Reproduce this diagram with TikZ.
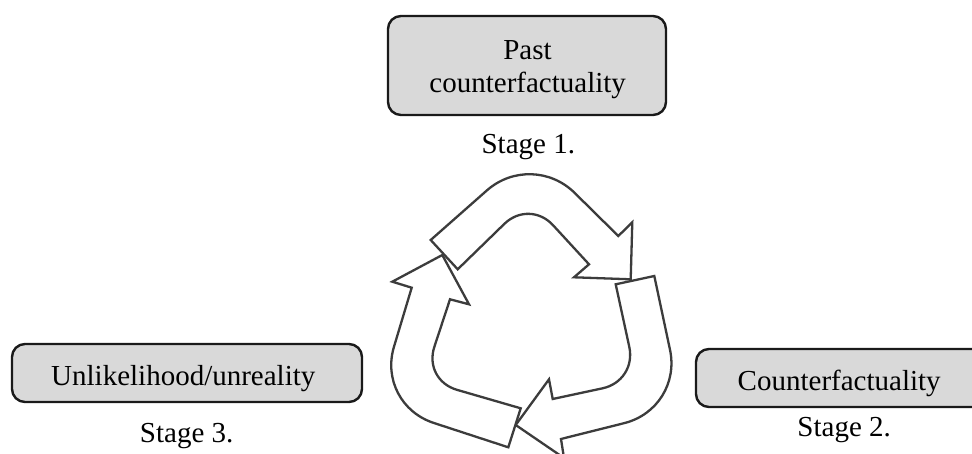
\documentclass[tikz,border=0pt]{standalone}
\usepackage{fontspec}
\setmainfont{Liberation Serif}
\usetikzlibrary{calc}
\definecolor{boxfill}{HTML}{D9D9D9}
\definecolor{boxline}{HTML}{1A1A1A}
\definecolor{arrline}{HTML}{3C3C3C}
\tikzset{
  stagebox/.style={draw=boxline, fill=boxfill, line width=2.4pt, rounded corners=13pt, inner sep=0pt},
  lbl/.style={inner sep=0pt, anchor=base, font=\fontsize{29}{33}\selectfont},
  cyclearrow/.style={draw=arrline, line width=2.3pt, fill=white, line join=miter},
}
\begin{document}
\begin{tikzpicture}[x=1pt,y=-1pt]
\clip (0,0) rectangle (972,454);
\fill[white] (0,0) rectangle (972,454);

% boxes
\node[stagebox, minimum width=278pt, minimum height=99pt] (box1) at (527,65.5) {};
\node[lbl] (past) at (527.5,59.3) {Past};
\node[lbl] (cf1) at (527.7,92.3) {counterfactuality};
\node[lbl] (st1) at (528.3,153.3) {Stage 1.};

\node[stagebox, minimum width=350pt, minimum height=58pt] (box3) at (187,373) {};
\node[lbl] (unl) at (183.3,385) {Unlikelihood/unreality};
\node[lbl] (st3) at (186.7,442.3) {Stage 3.};

\node[stagebox, minimum width=300pt, minimum height=58pt] (box2) at (846,378) {};
\node[lbl] (cf2) at (839.2,390.7) {Counterfactuality};
\node[lbl] (st2) at (844.2,436) {Stage 2.};

% top arrow
\coordinate (t-to) at (430.7,240);
\coordinate (t-ov) at (531.9,150.7);
\coordinate (t-on) at (618.3,236);
\coordinate (t-ob) at (632.3,222.3);
\coordinate (t-tip) at (630.7,279.3);
\coordinate (t-ib) at (574,277.3);
\coordinate (t-in) at (589,264.3);
\coordinate (t-iv) at (529.4,199.5);
\coordinate (t-ti) at (457.7,269.3);
\draw[cyclearrow] (t-to) -- ($(t-ov)!60pt!(t-to)$)
  .. controls ($(t-ov)!26pt!(t-to)$) and ($(t-ov)!26pt!(t-on)$) .. ($(t-ov)!60pt!(t-on)$)
  -- (t-on) -- (t-ob) -- (t-tip) -- (t-ib) -- (t-in) -- ($(t-iv)!35pt!(t-in)$)
  .. controls ($(t-iv)!15pt!(t-in)$) and ($(t-iv)!15pt!(t-ti)$) .. ($(t-iv)!35pt!(t-ti)$)
  -- (t-ti) -- cycle;

% right arrow
\coordinate (r-to) at (654.3,276);
\coordinate (r-ov) at (682.5,408.5);
\coordinate (r-on) at (561,439);
\coordinate (r-ob) at (564,458);
\coordinate (r-tip) at (515.7,425);
\coordinate (r-ib) at (549,379.3);
\coordinate (r-in) at (552.7,399);
\coordinate (r-iv) at (636.7,381);
\coordinate (r-ti) at (615.7,284.3);
\draw[cyclearrow] (r-to) -- ($(r-ov)!60pt!(r-to)$)
  .. controls ($(r-ov)!26pt!(r-to)$) and ($(r-ov)!26pt!(r-on)$) .. ($(r-ov)!60pt!(r-on)$)
  -- (r-on) -- (r-ob) -- (r-tip) -- (r-ib) -- (r-in) -- ($(r-iv)!35pt!(r-in)$)
  .. controls ($(r-iv)!15pt!(r-in)$) and ($(r-iv)!15pt!(r-ti)$) .. ($(r-iv)!35pt!(r-ti)$)
  -- (r-ti) -- cycle;

% left arrow
\coordinate (l-to) at (508.3,447.3);
\coordinate (l-ov) at (376.7,404.3);
\coordinate (l-on) at (411.7,287.7);
\coordinate (l-ob) at (392.3,281.7);
\coordinate (l-tip) at (442.3,255);
\coordinate (l-ib) at (469,304.3);
\coordinate (l-in) at (450,299.3);
\coordinate (l-iv) at (423.4,380.1);
\coordinate (l-ti) at (520.7,408.3);
\draw[cyclearrow] (l-to) -- ($(l-ov)!60pt!(l-to)$)
  .. controls ($(l-ov)!26pt!(l-to)$) and ($(l-ov)!26pt!(l-on)$) .. ($(l-ov)!60pt!(l-on)$)
  -- (l-on) -- (l-ob) -- (l-tip) -- (l-ib) -- (l-in) -- ($(l-iv)!35pt!(l-in)$)
  .. controls ($(l-iv)!15pt!(l-in)$) and ($(l-iv)!15pt!(l-ti)$) .. ($(l-iv)!35pt!(l-ti)$)
  -- (l-ti) -- cycle;
\end{tikzpicture}
\end{document}
